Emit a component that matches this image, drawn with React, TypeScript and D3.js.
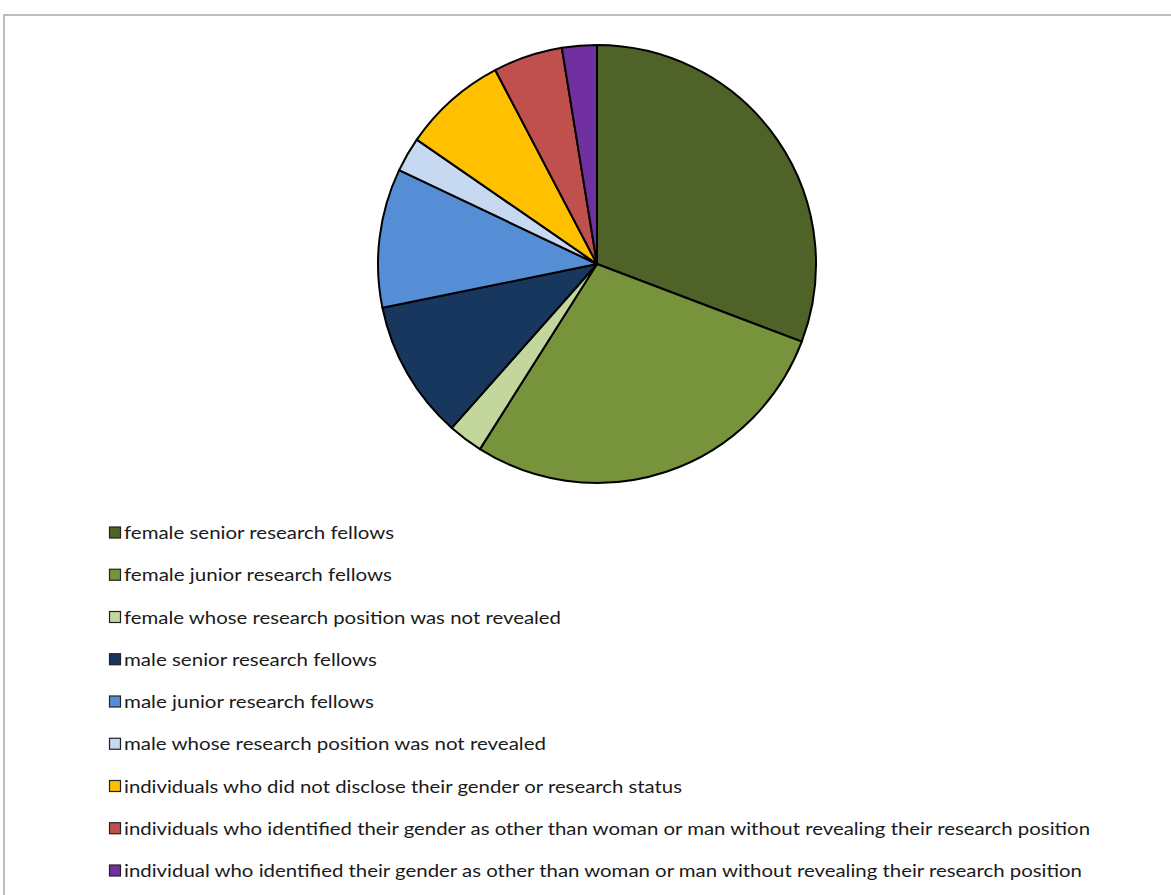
import React from "react";
import * as d3 from "d3";

const categories = [
  "female senior research fellows",
  "female junior research fellows",
  "female whose research position was not revealed",
  "male senior research fellows",
  "male junior research fellows",
  "male whose research position was not revealed",
  "individuals who did not disclose their gender or research status",
  "individuals who identified their gender as other than woman or man without revealing their research position",
  "individual who identified their gender as other than woman or man without revealing their research position",
];
const values = [12, 11, 1, 4, 4, 1, 3, 2, 1];
const colors = ["#4F6228", "#77933C", "#C3D69B", "#17375E", "#558ED5", "#C6D9F1", "#FFC000", "#C0504D", "#7030A0"];
const labelWidths = [270, 268, 437, 253, 250, 422, 558, 966, 958];

export default function App() {
  const W = 1171, H = 895;
  const cx = 597, cy = 264, r = 219;
  const pie = d3.pie<number>().sort(null).value((d) => d)(values);
  const arc = d3.arc<d3.PieArcDatum<number>>().innerRadius(0).outerRadius(r);
  const legendY = d3.scaleLinear().domain([0, 8]).range([533, 871]);
  return (
    <svg width={W} height={H} style={{ position: "absolute", left: 0, top: 0, background: "#fff" }}>
      <rect x={4} y={15} width={W + 10} height={H + 10} fill="#fff" stroke="#a8a8a8" strokeWidth={1.5} />
      <g transform={`translate(${cx},${cy})`}>
        {pie.map((p, i) => (
          <path key={i} d={arc(p) || ""} fill={colors[i]} stroke="#000" strokeWidth={2} strokeLinejoin="round" />
        ))}
      </g>
      <g>
        {categories.map((c, i) => {
          const y = legendY(i);
          return (
            <g key={i}>
              <rect x={109.5} y={y - 6} width={11} height={11} fill={colors[i]} stroke="#222" strokeWidth={1.2} />
              <text
                x={124}
                y={y}
                dy="0.36em"
                fontFamily="Lato, 'Open Sans', sans-serif"
                fontSize={17}
                fill="#1a1a1a"
                textLength={labelWidths[i]}
                lengthAdjust="spacingAndGlyphs"
              >
                {c}
              </text>
            </g>
          );
        })}
      </g>
    </svg>
  );
}
